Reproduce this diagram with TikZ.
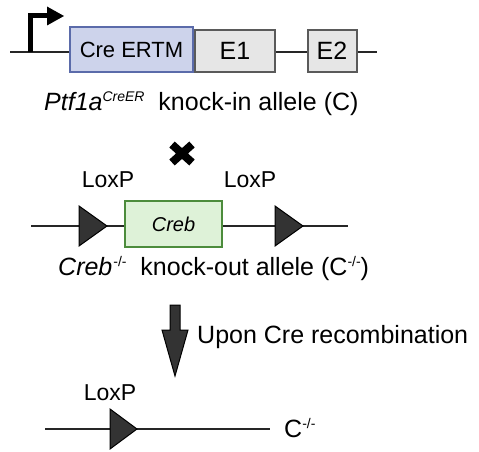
\documentclass[tikz,border=0pt]{standalone}
\usepackage{fontspec}
\setmainfont{Liberation Sans}
\definecolor{creFill}{HTML}{CDD3EB}
\definecolor{creDraw}{HTML}{5B6BAA}
\definecolor{exFill}{HTML}{E6E6E6}
\definecolor{exDraw}{HTML}{5A5A5A}
\definecolor{crebFill}{HTML}{DEF2D8}
\definecolor{crebDraw}{HTML}{4C8C3C}
\definecolor{tri}{HTML}{333333}
\newcommand\mysup[1]{\raisebox{9pt}{\fontsize{14}{14}\selectfont #1}}
\begin{document}
\begin{tikzpicture}[x=1pt,y=-1pt,
  dna/.style={line width=2.4pt,draw=black!85},
  box/.style={draw,line width=2pt,minimum height=0pt,inner sep=0pt},
  loxp/.style={fill=tri,draw=black,line width=1pt,line join=miter},
  lbl/.style={font=\fontsize{23}{26}\selectfont,anchor=base,inner sep=0pt},
  captxt/.style={font=\fontsize{25}{28}\selectfont,anchor=base west,inner sep=0pt}]
\useasboundingbox (0,0) rectangle (479,452);
% ---- row 1
\node[box,fill=creFill,draw=creDraw,minimum width=123pt,minimum height=45pt,
      font=\fontsize{22}{24}\selectfont] (cre) at (131.5,49.5) {Cre ERTM};
\node[box,fill=exFill,draw=exDraw,minimum width=80pt,minimum height=42pt,
      font=\fontsize{25}{28}\selectfont] (e1) at (235,51) {E1};
\node[box,fill=exFill,draw=exDraw,minimum width=49pt,minimum height=42pt,
      font=\fontsize{25}{28}\selectfont] (e2) at (332,51) {E2};
\coordinate (l1a) at (10,52);
\coordinate (l1b) at (377,52);
\draw[dna] (l1a) -- (cre.west |- l1a);
\draw[dna] (e1.east |- l1b) -- (e2.west |- l1b);
\draw[dna] (e2.east |- l1b) -- (l1b);
% promoter
\coordinate (p0) at (30,52);
\draw[line width=5pt] (p0) -- (30,16) -- (48,16);
\fill (47,6.5) -- (64,16) -- (47,25.5) -- cycle;
\node[captxt] (cap1) at (44,110)
  {\textit{Ptf1a}\mysup{\textit{CreER}}\ \ knock-in allele (C)};
% cross
\draw[line width=8pt] (172,144.5) -- (192,162.5) (172,162.5) -- (192,144.5);
% ---- row 2
\node[lbl] (lox1) at (108,187) {LoxP};
\node[lbl] (lox2) at (250,187) {LoxP};
\node[box,fill=crebFill,draw=crebDraw,minimum width=97pt,minimum height=46pt,
      font=\fontsize{20}{24}\selectfont\itshape] (creb) at (173.5,224) {Creb};
\coordinate (l2a) at (31,226);
\coordinate (l2b) at (348,226);
\draw[dna] (l2a) -- (creb.west |- l2a);
\draw[dna] (creb.east |- l2b) -- (l2b);
\draw[loxp] (79,206) -- (107,226) -- (79,246) -- cycle;
\draw[loxp] (275,206) -- (303,226) -- (275,246) -- cycle;
\node[captxt] (cap2) at (58,275)
  {\textit{Creb}\kern1pt\mysup{-/-}\ \ knock-out allele (C\mysup{-/-})};
% ---- arrow
\draw[fill=tri,draw=black,line width=1pt,line join=miter]
  (170,305) -- (180,305) -- (180,330) -- (188,330) -- (175,376) -- (162,330) -- (170,330) -- cycle;
\node[captxt] (upon) at (197,343) {Upon Cre recombination};
% ---- row 3
\node[lbl] (lox3) at (110,400) {LoxP};
\coordinate (l3a) at (45,429);
\coordinate (l3b) at (270,429);
\draw[dna] (l3a) -- (l3b);
\draw[loxp] (110,409) -- (137,429) -- (110,449) -- cycle;
\node[captxt] (cko) at (284,437) {C\mysup{-/-}};
\end{tikzpicture}
\end{document}
